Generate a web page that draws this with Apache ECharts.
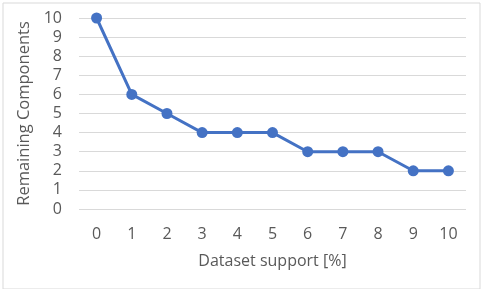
<!DOCTYPE html>
<html>
<head>
<meta charset="utf-8">
<script src="https://cdn.jsdelivr.net/npm/echarts@6/dist/echarts.min.js"></script>
<style>
html,body{margin:0;padding:0;background:#fff;}
#c{width:481px;height:289px;}
</style>
</head>
<body>
<div id="c"></div>
<script>
const categories = ['0','1','2','3','4','5','6','7','8','9','10'];
const remaining = [10, 6, 5, 4, 4, 4, 3, 3, 3, 2, 2];
const xTitle = 'Dataset support [%]';
const yTitle = 'Remaining Components';

const chart = echarts.init(document.getElementById('c'), null, {renderer: 'canvas'});
const font = 'Open Sans';
const fs = 16;
chart.setOption({
  animation: false,
  backgroundColor: '#fff',
  graphic: [{
    type: 'rect', left: 0.5, top: 0.5,
    shape: {x: 0.5, y: 0.5, width: 477, height: 286},
    style: {fill: 'none', stroke: '#d9d9d9', lineWidth: 1}
  }],
  grid: {left: 79, right: 15, top: 18, bottom: 80},
  xAxis: {
    type: 'category',
    data: categories,
    boundaryGap: true,
    axisLine: {show: false},
    axisTick: {show: false},
    axisLabel: {color: '#595959', fontSize: fs, fontFamily: font, margin: 17},
    name: xTitle,
    nameLocation: 'middle',
    nameGap: 44,
    nameTextStyle: {color: '#595959', fontSize: fs, fontFamily: font}
  },
  yAxis: {
    type: 'value',
    min: 0, max: 10, interval: 1,
    axisLine: {show: false},
    axisTick: {show: false},
    splitLine: {lineStyle: {color: '#d9d9d9', width: 1}},
    axisLabel: {color: '#595959', fontSize: fs, fontFamily: font, margin: 17},
    name: yTitle,
    nameLocation: 'middle',
    nameGap: 35,
    nameTextStyle: {color: '#595959', fontSize: 16.5, fontFamily: font, padding: [0, 0, 0, 0]}
  },
  series: [{
    type: 'line',
    data: remaining,
    symbol: 'circle',
    symbolSize: 11,
    lineStyle: {color: '#4472C4', width: 3},
    itemStyle: {color: '#4472C4'}
  }]
});
</script>
</body>
</html>
